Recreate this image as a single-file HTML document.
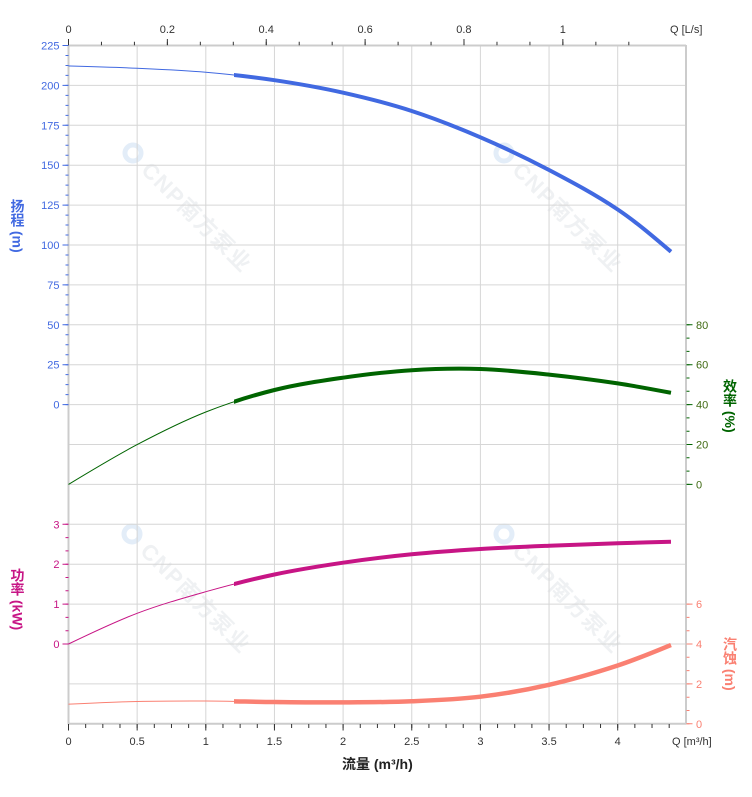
<!DOCTYPE html>
<html><head><meta charset="utf-8">
<style>
html,body{margin:0;padding:0;background:#fff;}
body{width:752px;height:797px;position:relative;overflow:hidden;font-family:"Liberation Sans","Noto Sans CJK SC",sans-serif;}
svg{position:absolute;left:0;top:0;}
.vt{position:absolute;writing-mode:vertical-rl;font-size:14px;font-weight:bold;line-height:14px;width:14px;white-space:nowrap;font-family:"Liberation Sans","Noto Sans CJK SC",sans-serif;}
</style></head><body>
<svg width="752" height="797" xmlns="http://www.w3.org/2000/svg" font-family="Liberation Sans, Noto Sans CJK SC, sans-serif">
<defs>
<clipPath id="thk"><rect x="234" y="0" width="500" height="797"/></clipPath>
</defs>
<rect width="752" height="797" fill="#fff"/>

<!-- watermarks -->
<g transform="translate(133,153) rotate(45)">
<circle r="8" fill="none" stroke="#e3edf8" stroke-width="5"/>
<text x="18" y="8" font-size="22" font-weight="bold" letter-spacing="1.5" fill="#eff1f3">CNP南方泵业</text>
</g>
<g transform="translate(504,153) rotate(45)">
<circle r="8" fill="none" stroke="#e3edf8" stroke-width="5"/>
<text x="18" y="8" font-size="22" font-weight="bold" letter-spacing="1.5" fill="#eff1f3">CNP南方泵业</text>
</g>
<g transform="translate(132,534) rotate(45)">
<circle r="8" fill="none" stroke="#e3edf8" stroke-width="5"/>
<text x="18" y="8" font-size="22" font-weight="bold" letter-spacing="1.5" fill="#eff1f3">CNP南方泵业</text>
</g>
<g transform="translate(504,534) rotate(45)">
<circle r="8" fill="none" stroke="#e3edf8" stroke-width="5"/>
<text x="18" y="8" font-size="22" font-weight="bold" letter-spacing="1.5" fill="#eff1f3">CNP南方泵业</text>
</g>

<!-- grid -->
<path stroke="#d6d6d6" stroke-width="1" fill="none" d="
M68.5,85.4H686 M68.5,125.3H686 M68.5,165.2H686 M68.5,205.1H686 M68.5,245H686 M68.5,284.9H686
M68.5,324.8H686 M68.5,364.7H686 M68.5,404.6H686 M68.5,444.5H686 M68.5,484.4H686 M68.5,524.3H686
M68.5,564.2H686 M68.5,604.1H686 M68.5,644H686 M68.5,683.9H686
M137.15,45.5V723.8 M205.8,45.5V723.8 M274.45,45.5V723.8 M343.1,45.5V723.8 M411.75,45.5V723.8
M480.4,45.5V723.8 M549.05,45.5V723.8 M617.7,45.5V723.8"/>
<!-- axis frame -->
<path stroke="#cccccc" stroke-width="2" fill="none" d="M68.5,45.5H686 M68.5,723.8H686 M68.5,45V724.5 M686,45V724.5"/>

<!-- left head ticks -->
<line x1="65.5" y1="45" x2="65.5" y2="405.2" stroke="#4169E1" stroke-width="6" stroke-dasharray="1 38.9"/>
<line x1="67" y1="45" x2="67" y2="405.2" stroke="#4169E1" stroke-width="3" stroke-dasharray="1 8.975"/>
<!-- left power ticks -->
<line x1="65.5" y1="523.8" x2="65.5" y2="644.6" stroke="#C71585" stroke-width="6" stroke-dasharray="1 38.9"/>
<line x1="67" y1="523.8" x2="67" y2="644.6" stroke="#C71585" stroke-width="3" stroke-dasharray="1 12.3"/>
<!-- right eff ticks -->
<line x1="689.5" y1="324.3" x2="689.5" y2="485" stroke="#006400" stroke-width="6" stroke-dasharray="1 38.9"/>
<line x1="688" y1="324.3" x2="688" y2="485" stroke="#006400" stroke-width="3" stroke-dasharray="1 12.3"/>
<!-- right npsh ticks -->
<line x1="689.5" y1="603.6" x2="689.5" y2="724.4" stroke="#FA8072" stroke-width="6" stroke-dasharray="1 38.9"/>
<line x1="688" y1="603.6" x2="688" y2="724.4" stroke="#FA8072" stroke-width="3" stroke-dasharray="1 12.3"/>
<!-- top ticks -->
<line x1="68" y1="42" x2="600" y2="42" stroke="#333" stroke-width="6" stroke-dasharray="1 97.87"/>
<line x1="68" y1="43.5" x2="630" y2="43.5" stroke="#333" stroke-width="3.5" stroke-dasharray="1 31.96"/>
<!-- bottom ticks -->
<line x1="68" y1="727.5" x2="620" y2="727.5" stroke="#333" stroke-width="6" stroke-dasharray="1 67.65"/>
<line x1="68" y1="726" x2="671" y2="726" stroke="#333" stroke-width="4" stroke-dasharray="1 16.1625"/>

<!-- tick labels -->
<g font-size="11" fill="#4169E1" text-anchor="end">
<text x="59.5" y="49.5">225</text><text x="59.5" y="89.4">200</text><text x="59.5" y="129.3">175</text>
<text x="59.5" y="169.2">150</text><text x="59.5" y="209.1">125</text><text x="59.5" y="249">100</text>
<text x="59.5" y="288.9">75</text><text x="59.5" y="328.8">50</text><text x="59.5" y="368.7">25</text>
<text x="59.5" y="408.6">0</text>
</g>
<g font-size="11" fill="#C71585" text-anchor="end">
<text x="59.5" y="528.3">3</text><text x="59.5" y="568.2">2</text><text x="59.5" y="608.1">1</text><text x="59.5" y="648">0</text>
</g>
<g font-size="11" fill="#3f6a12">
<text x="696" y="328.8">80</text><text x="696" y="368.7">60</text><text x="696" y="408.6">40</text>
<text x="696" y="448.5">20</text><text x="696" y="488.4">0</text>
</g>
<g font-size="11" fill="#FA8072">
<text x="696" y="608.1">6</text><text x="696" y="648">4</text><text x="696" y="687.9">2</text><text x="696" y="727.8">0</text>
</g>
<g font-size="11" fill="#333" text-anchor="middle">
<text x="68.5" y="33">0</text><text x="167.4" y="33">0.2</text><text x="266.2" y="33">0.4</text>
<text x="365.1" y="33">0.6</text><text x="463.9" y="33">0.8</text><text x="562.8" y="33">1</text>
<text x="68.5" y="745">0</text><text x="137.15" y="745">0.5</text><text x="205.8" y="745">1</text>
<text x="274.45" y="745">1.5</text><text x="343.1" y="745">2</text><text x="411.75" y="745">2.5</text>
<text x="480.4" y="745">3</text><text x="549.05" y="745">3.5</text><text x="617.7" y="745">4</text>
</g>
<text x="670" y="33" font-size="11" fill="#333">Q [L/s]</text>
<text x="672" y="745" font-size="11" fill="#333">Q [m³/h]</text>
<text x="342" y="769" font-size="14" font-weight="bold" fill="#222">流量 (m³/h)</text>

<!-- curves -->
<path id="hT" fill="none" stroke="#4169E1" stroke-width="1"/>
<path id="hK" fill="none" stroke="#4169E1" stroke-width="4" clip-path="url(#thk)"/>
<path id="eT" fill="none" stroke="#006400" stroke-width="1"/>
<path id="eK" fill="none" stroke="#006400" stroke-width="4" clip-path="url(#thk)"/>
<path id="pT" fill="none" stroke="#C71585" stroke-width="1"/>
<path id="pK" fill="none" stroke="#C71585" stroke-width="4" clip-path="url(#thk)"/>
<path id="nT" fill="none" stroke="#FA8072" stroke-width="1"/>
<path id="nK" fill="none" stroke="#FA8072" stroke-width="4.5" clip-path="url(#thk)"/>
</svg>

<div class="vt" style="left:10.5px;top:199px;color:#4169E1">扬程 (m)</div>
<div class="vt" style="left:10.5px;top:568px;color:#C71585">功率 (kW)</div>
<div class="vt" style="left:723px;top:379px;color:#006400">效率 (%)</div>
<div class="vt" style="left:723px;top:637px;color:#FA8072">汽蚀 (m)</div>

<script>
(function(){
var qs=[0,0.5,1,1.5,2,2.5,3,3.5,4,4.388];
function X(q){return 68.5+q*137.3;}
function build(ys){
  var n=qs.length,xs=qs.map(X),m=[];
  for(var i=0;i<n;i++){
    if(i==0) m[i]=(ys[1]-ys[0])/(xs[1]-xs[0]);
    else if(i==n-1) m[i]=(ys[n-1]-ys[n-2])/(xs[n-1]-xs[n-2]);
    else m[i]=(ys[i+1]-ys[i-1])/(xs[i+1]-xs[i-1]);
  }
  // better end slopes via quadratic extrapolation
  var s0=(ys[1]-ys[0])/(xs[1]-xs[0]), s1=(ys[2]-ys[1])/(xs[2]-xs[1]);
  m[0]=1.5*s0-0.5*m[1];
  var se=(ys[n-1]-ys[n-2])/(xs[n-1]-xs[n-2]);
  m[n-1]=1.5*se-0.5*m[n-2];
  var d='M'+xs[0].toFixed(2)+','+ys[0].toFixed(2);
  for(var i=0;i<n-1;i++){
    var h=xs[i+1]-xs[i];
    var c1x=xs[i]+h/3,c1y=ys[i]+m[i]*h/3;
    var c2x=xs[i+1]-h/3,c2y=ys[i+1]-m[i+1]*h/3;
    d+='C'+c1x.toFixed(2)+','+c1y.toFixed(2)+' '+c2x.toFixed(2)+','+c2y.toFixed(2)+' '+xs[i+1].toFixed(2)+','+ys[i+1].toFixed(2);
  }
  return d;
}
var data={
 h:[66,68.3,72.3,80.2,92.7,111,137.3,170,209.5,251.7],
 e:[484.4,444.6,412,390,377.7,370.2,369,374.6,383.4,392.8],
 p:[644,613.3,591.7,574.5,562.7,554.3,549,545.7,543.3,541.7],
 n:[704.2,701.5,701,702,702.4,701.3,696.7,684.8,665.5,645]
};
['h','e','p','n'].forEach(function(k){
  var d=build(data[k]);
  document.getElementById(k+'T').setAttribute('d',d);
  document.getElementById(k+'K').setAttribute('d',d);
});
})();
</script>
</body></html>
